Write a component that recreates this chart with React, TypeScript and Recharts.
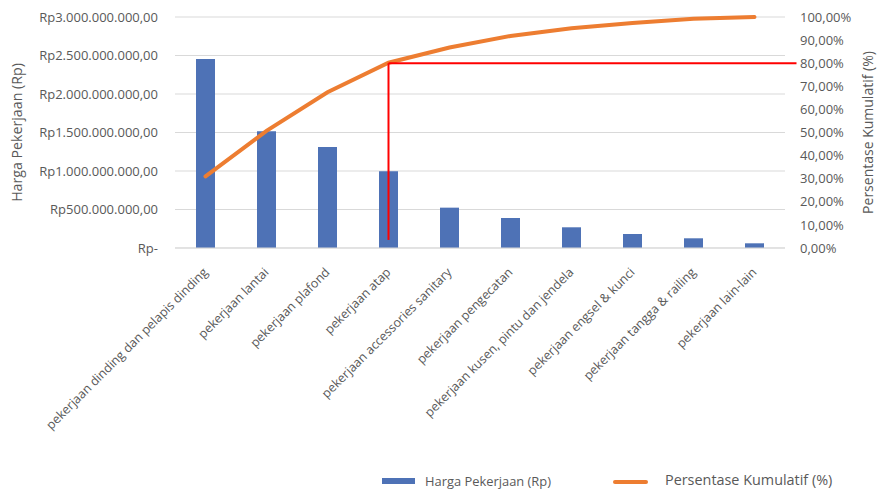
import React from 'react';
import {
  ComposedChart,
  Bar,
  Line,
  XAxis,
  YAxis,
  CartesianGrid,
  ReferenceLine,
  Legend,
} from 'recharts';

const categories = [
  'pekerjaan dinding dan pelapis dinding',
  'pekerjaan lantai',
  'pekerjaan plafond',
  'pekerjaan atap',
  'pekerjaan accessories sanitary',
  'pekerjaan pengecatan',
  'pekerjaan kusen, pintu dan jendela',
  'pekerjaan engsel & kunci',
  'pekerjaan tangga & railing',
  'pekerjaan lain-lain',
];

const hargaPekerjaan = [
  2455000000, 1515000000, 1312000000, 996000000, 524000000, 390000000,
  269000000, 182000000, 126000000, 61000000,
];

const persentaseKumulatif = [31, 50.7, 67.4, 80.2, 86.8, 91.8, 95.1, 97.4, 99.2, 100];

const leftTicks = [0, 500000000, 1000000000, 1500000000, 2000000000, 2500000000, 3000000000];
const rightTicks = [0, 10, 20, 30, 40, 50, 60, 70, 80, 90, 100];

const paretoCategory = 'pekerjaan atap';
const paretoStart = 3.5;
const paretoLevel = 80;

const data = categories.map((c, i) => ({
  name: c,
  harga: hargaPekerjaan[i],
  kumulatif: persentaseKumulatif[i],
}));

const FONT = '"Open Sans", "Noto Sans", sans-serif';
const TEXT = '#595959';

const formatRp = (v: number) => {
  if (v === 0) return 'Rp-';
  const s = Math.round(v).toString().replace(/\B(?=(\d{3})+(?!\d))/g, '.');
  return 'Rp' + s + ',00';
};
const formatPct = (v: number) => v.toFixed(2).replace('.', ',') + '%';

const XTick = (props: any) => {
  const { x, y, payload } = props;
  return (
    <g transform={`translate(${x + 3},${y + 17})`}>
      <text
        textAnchor="end"
        transform="rotate(-45)"
        fill={TEXT}
        fontSize={12.5}
        fontFamily={FONT}
      >
        {payload.value}
      </text>
    </g>
  );
};

const LegendContent = () => (
  <div
    style={{
      position: 'relative',
      height: 18,
      fontFamily: FONT,
      color: TEXT,
      width: 881,
    }}
  >
    <div style={{ position: 'absolute', left: 382, top: 6, width: 33, height: 6, background: '#4e72b6' }} />
    <div style={{ position: 'absolute', left: 425, top: 0, fontSize: 12.9, lineHeight: '18px', whiteSpace: 'nowrap' }}>
      Harga Pekerjaan (Rp)
    </div>
    <div style={{ position: 'absolute', left: 613, top: 8, width: 35, height: 4, background: '#ed7d31', borderRadius: 2 }} />
    <div style={{ position: 'absolute', left: 665, top: -1, fontSize: 14.4, lineHeight: '18px', whiteSpace: 'nowrap' }}>
      Persentase Kumulatif (%)
    </div>
  </div>
);

const RedExtendedLine = (props: any) => {
  const { x1, y1, x2, y2 } = props;
  return <line x1={x1} y1={y1} x2={x2 + 42} y2={y2} stroke="#ff0000" strokeWidth={2} />;
};

export default function App() {
  return (
    <div style={{ position: 'absolute', left: 0, top: 0 }}>
      <ComposedChart
        width={881}
        height={490}
        data={data}
        margin={{ top: 17, right: 0, bottom: 0, left: 0 }}
      >
        <CartesianGrid yAxisId="left" vertical={false} stroke="#d9d9d9" strokeWidth={1} />
        <XAxis
          dataKey="name"
          interval={0}
          height={224}
          tick={<XTick />}
          tickLine={false}
          axisLine={{ stroke: '#d9d9d9' }}
        />
        <YAxis
          yAxisId="left"
          orientation="left"
          width={175}
          domain={[0, 3000000000]}
          ticks={leftTicks}
          tickFormatter={formatRp}
          tickLine={false}
          axisLine={false}
          tickSize={0}
          tickMargin={17}
          tick={{ fill: TEXT, fontSize: 13, fontFamily: FONT }}
          label={{
            value: 'Harga Pekerjaan (Rp)',
            angle: -90,
            position: 'insideLeft',
            offset: 17,
            style: { fill: TEXT, fontSize: 14.2, fontFamily: FONT, textAnchor: 'middle' },
          }}
        />
        <YAxis
          yAxisId="right"
          orientation="right"
          width={96}
          domain={[0, 100]}
          ticks={rightTicks}
          tickFormatter={formatPct}
          tickLine={false}
          axisLine={false}
          tickSize={0}
          tickMargin={15}
          tick={{ fill: TEXT, fontSize: 13, fontFamily: FONT }}
          label={{
            value: 'Persentase Kumulatif (%)',
            angle: -90,
            position: 'insideRight',
            offset: 13,
            style: { fill: TEXT, fontSize: 14, fontFamily: FONT, textAnchor: 'middle' },
          }}
        />
        <Bar
          yAxisId="left"
          dataKey="harga"
          name="Harga Pekerjaan (Rp)"
          fill="#4e72b6"
          barSize={19}
          isAnimationActive={false}
        />
        <Line
          yAxisId="right"
          dataKey="kumulatif"
          name="Persentase Kumulatif (%)"
          type="linear"
          stroke="#ed7d31"
          strokeWidth={4}
          strokeLinecap="round"
          dot={false}
          activeDot={false}
          isAnimationActive={false}
        />
        <ReferenceLine
          yAxisId="right"
          segment={[
            { x: paretoCategory, y: paretoStart },
            { x: paretoCategory, y: paretoLevel },
          ]}
          stroke="#ff0000"
          strokeWidth={2}
          ifOverflow="visible"
        />
        <ReferenceLine
          yAxisId="right"
          segment={[
            { x: paretoCategory, y: paretoLevel },
            { x: categories[categories.length - 1], y: paretoLevel },
          ]}
          stroke="#ff0000"
          strokeWidth={2}
          ifOverflow="visible"
          shape={<RedExtendedLine />}
        />
        <Legend
          verticalAlign="bottom"
          height={18}
          content={<LegendContent />}
          wrapperStyle={{ left: 0, width: 881 }}
        />
      </ComposedChart>
    </div>
  );
}
